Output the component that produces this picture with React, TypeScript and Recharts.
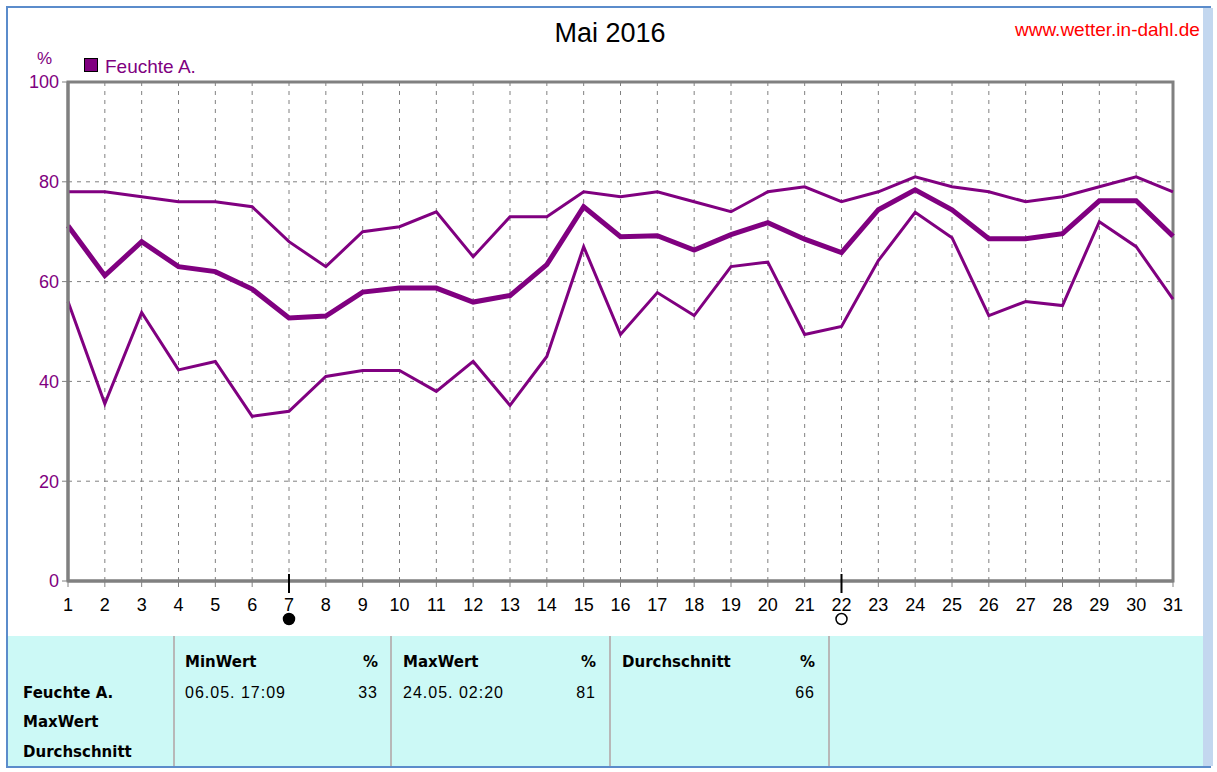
import React from "react";
import { LineChart, Line, XAxis, YAxis, CartesianGrid, ReferenceArea, ReferenceDot } from "recharts";

const days = [1, 2, 3, 4, 5, 6, 7, 8, 9, 10, 11, 12, 13, 14, 15, 16, 17, 18, 19, 20, 21, 22, 23, 24, 25, 26, 27, 28, 29, 30, 31];
const maxValues = [78, 78, 77, 76, 76, 75, 68, 63, 70, 71, 74, 65, 73, 73, 78, 77, 78, 76, 74, 78, 79, 76, 78, 81, 79, 78, 76, 77, 79, 81, 78];
const avgValues = [71.2, 61.2, 68, 63, 62, 58.5, 52.7, 53.1, 57.9, 58.7, 58.7, 55.9, 57.2, 63.4, 75, 69, 69.2, 66.3, 69.4, 71.8, 68.5, 65.8, 74.4, 78.4, 74.4, 68.6, 68.6, 69.6, 76.2, 76.2, 69.1];
const minValues = [56, 35.5, 53.8, 42.3, 44, 33, 34, 41, 42.2, 42.2, 38, 44, 35.2, 45, 67, 49.4, 57.8, 53.2, 63, 63.9, 49.4, 51, 64.2, 73.9, 68.8, 53.2, 56, 55.2, 72, 67, 56.5];
const yTicks = [0, 20, 40, 60, 80, 100];
const newMoonDay = 7;
const fullMoonDay = 22;

const data = days.map((d, i) => ({ day: d, max: maxValues[i], avg: avgValues[i], min: minValues[i] }));

const PURPLE = "#800080";
const GRAY = "#808080";

const moonShape = (filled: boolean) => (props: any) => {
  const { cx, cy } = props;
  return (
    <g>
      <line x1={cx} y1={cy - 7} x2={cx} y2={cy + 12} stroke="#000" strokeWidth={2} />
      <circle cx={cx} cy={cy + 38} r={5.5} fill={filled ? "#000" : "#fff"} stroke="#000" strokeWidth={1.5} />
    </g>
  );
};

const cell = (left: number, width: number): React.CSSProperties => ({
  position: "absolute",
  left,
  top: 0,
  width,
  height: "100%",
  borderRight: "2px solid #b8b8b8",
  boxSizing: "border-box",
});

const bold: React.CSSProperties = { position: "absolute", fontWeight: "bold", fontSize: 15, whiteSpace: "nowrap", fontFamily: "'DejaVu Sans', Arial, sans-serif" };
const plain: React.CSSProperties = { position: "absolute", fontSize: 16, letterSpacing: 1, whiteSpace: "nowrap" };

export default function App() {
  return (
    <div style={{ position: "absolute", left: 0, top: 0, width: 1217, height: 772, background: "#fff", fontFamily: "'Liberation Sans', Arial, sans-serif", overflow: "hidden" }}>
      {/* window frame */}
      <div style={{ position: "absolute", left: 6, top: 6, width: 1205, height: 762, border: "2px solid #5b8ccb", boxSizing: "border-box" }} />
      <div style={{ position: "absolute", left: 1203, top: 8, width: 10, height: 758, background: "#c3d7ef" }} />

      <div style={{ position: "absolute", left: 0, width: 1220, top: 18, textAlign: "center", fontSize: 27, color: "#000" }}>Mai 2016</div>
      <div style={{ position: "absolute", left: 1015, top: 19, fontSize: 19, color: "#ff0000", whiteSpace: "nowrap" }}>www.wetter.in-dahl.de</div>
      <div style={{ position: "absolute", left: 37, top: 49, fontSize: 17, color: PURPLE }}>%</div>
      <div style={{ position: "absolute", left: 84, top: 58, width: 14, height: 14, background: PURPLE, border: "1px solid #000", boxSizing: "border-box" }} />
      <div style={{ position: "absolute", left: 105, top: 56, fontSize: 19, color: PURPLE, whiteSpace: "nowrap" }}>Feuchte A.</div>

      <div style={{ position: "absolute", left: 0, top: 0 }}>
        <LineChart width={1217} height={772} data={data} margin={{ top: 82, right: 44, left: 8, bottom: 161 }}>
          <CartesianGrid stroke={GRAY} strokeDasharray="4 5" />
          <XAxis
            dataKey="day"
            type="number"
            domain={[1, 31]}
            ticks={days}
            interval={0}
            height={30}
            stroke={GRAY}
            axisLine={{ stroke: GRAY, strokeWidth: 3 }}
            tickLine={{ stroke: GRAY, strokeWidth: 1 }}
            tickSize={6}
            tickMargin={11}
            tick={{ fill: "#000", fontSize: 18, fontFamily: "'Liberation Sans', Arial, sans-serif" }}
          />
          <YAxis
            type="number"
            domain={[0, 100]}
            ticks={yTicks}
            width={60}
            stroke={GRAY}
            axisLine={{ stroke: GRAY, strokeWidth: 3 }}
            tickLine={{ stroke: GRAY, strokeWidth: 1 }}
            tickSize={6}
            tickMargin={3}
            tick={{ fill: PURPLE, fontSize: 18, fontFamily: "'Liberation Sans', Arial, sans-serif" }}
          />
          <ReferenceArea x1={1} x2={31} y1={0} y2={100} fill="none" fillOpacity={0} stroke={GRAY} strokeWidth={3} />
          <Line type="linear" dataKey="max" stroke={PURPLE} strokeWidth={3} dot={false} isAnimationActive={false} />
          <Line type="linear" dataKey="avg" stroke={PURPLE} strokeWidth={5} dot={false} isAnimationActive={false} />
          <Line type="linear" dataKey="min" stroke={PURPLE} strokeWidth={3} dot={false} isAnimationActive={false} />
          <ReferenceDot x={newMoonDay} y={0} ifOverflow="visible" shape={moonShape(true)} />
          <ReferenceDot x={fullMoonDay} y={0} ifOverflow="visible" shape={moonShape(false)} />
        </LineChart>
      </div>

      {/* statistics table */}
      <div style={{ position: "absolute", left: 8, top: 636, width: 1195, height: 130, background: "#ccf9f6", color: "#000" }}>
        <div style={cell(0, 167)}>
          <div style={{ ...bold, left: 15, top: 48 }}>Feuchte A.</div>
          <div style={{ ...bold, left: 15, top: 77 }}>MaxWert</div>
          <div style={{ ...bold, left: 15, top: 107 }}>Durchschnitt</div>
        </div>
        <div style={cell(165, 219)}>
          <div style={{ ...bold, left: 12, top: 17 }}>MinWert</div>
          <div style={{ ...bold, right: 12, top: 17 }}>%</div>
          <div style={{ ...plain, left: 12, top: 48 }}>06.05.  17:09</div>
          <div style={{ ...plain, right: 12, top: 48 }}>33</div>
        </div>
        <div style={cell(382, 221)}>
          <div style={{ ...bold, left: 13, top: 17 }}>MaxWert</div>
          <div style={{ ...bold, right: 13, top: 17 }}>%</div>
          <div style={{ ...plain, left: 13, top: 48 }}>24.05.  02:20</div>
          <div style={{ ...plain, right: 13, top: 48 }}>81</div>
        </div>
        <div style={cell(601, 221)}>
          <div style={{ ...bold, left: 13, top: 17 }}>Durchschnitt</div>
          <div style={{ ...bold, right: 13, top: 17 }}>%</div>
          <div style={{ ...plain, right: 13, top: 48 }}>66</div>
        </div>
      </div>
    </div>
  );
}
